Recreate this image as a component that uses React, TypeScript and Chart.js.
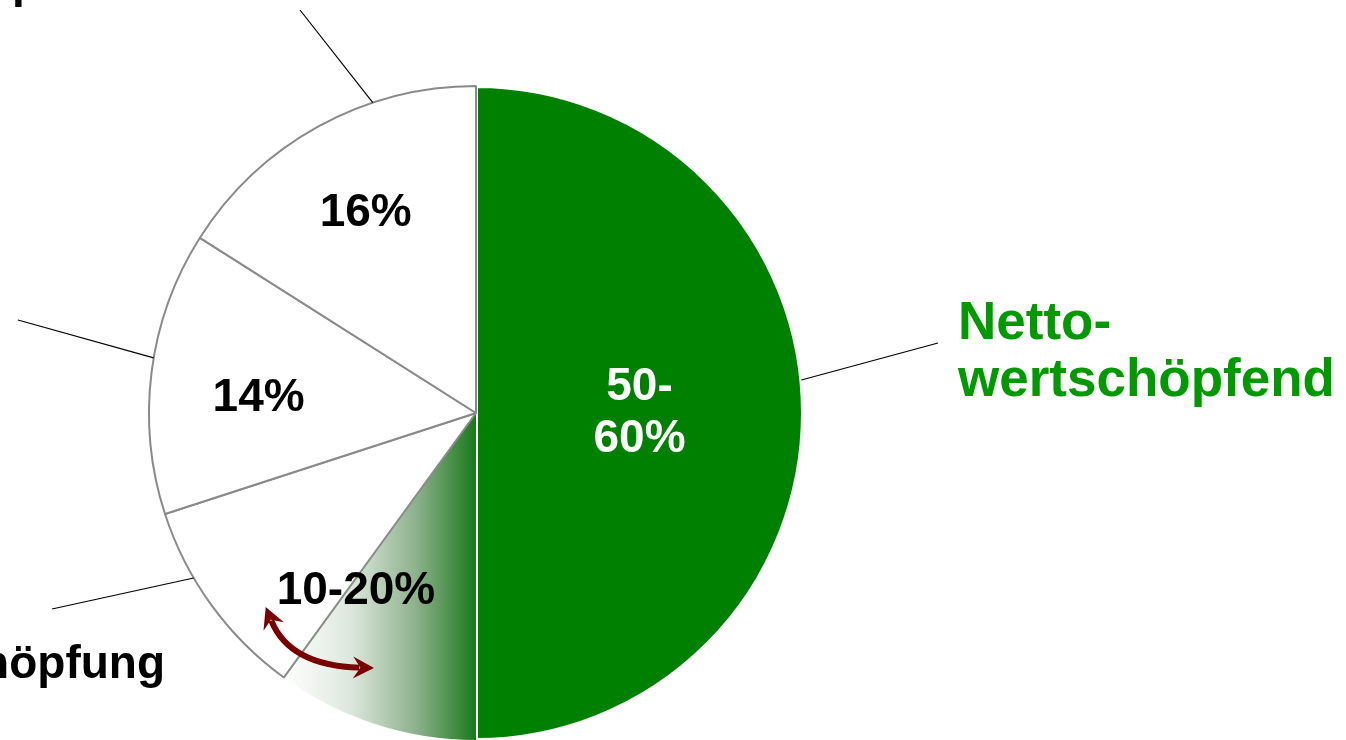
import React, { useEffect, useRef } from "react";
import { Chart, registerables } from "chart.js";

Chart.register(...registerables);

// ---- data ----
const categories = [
  "Netto-wertschöpfend",
  "Wertschöpfung (variabel)",
  "Wertschöpfung",
  "Unterstützend",
  "Stützprozesse",
];
const values = [50, 10, 10, 14, 16];
const sliceTexts: string[][] = [["50-", "60%"], [], [], ["14%"], ["16%"]];
const boundaryText = "10-20%";
const nettoLines = ["Netto-", "wertschöpfend"];
const bottomLabel = "Wertschöpfung";
const topLabelPrefix = "Stütz";
const topLabel = "Stützprozesse";

const W = 1346;
const H = 740;
const RADIUS = 327;
const FONT = "'Liberation Sans', Arial, sans-serif";
const GREEN = "#008000";
const TEXT_GREEN = "#009a00";
const GREY = "#8a8a8a";
const ARROW = "#7a0000";

function polar(cx: number, cy: number, angDeg: number, r: number) {
  const a = (angDeg * Math.PI) / 180;
  return { x: cx + r * Math.sin(a), y: cy - r * Math.cos(a) };
}

const total = values.reduce((a, b) => a + b, 0);
const cumAngle = (i: number) =>
  (values.slice(0, i).reduce((a, b) => a + b, 0) / total) * 360;

const overlayPlugin = {
  id: "overlay",
  afterDatasetsDraw(chart: any) {
    const ctx = chart.ctx as CanvasRenderingContext2D;
    const meta = chart.getDatasetMeta(0);
    const arc0 = meta.data[0] as any;
    const cx = arc0.x;
    const cy = arc0.y;
    const R = arc0.outerRadius;
    ctx.save();

    // slice labels
    const fracs = [0.5, 0, 0, 0.67, 0.7];
    const dys = [-3, 0, 0, 9, -2];
    ctx.textAlign = "center";
    ctx.textBaseline = "alphabetic";
    ctx.font = `bold 46px ${FONT}`;
    sliceTexts.forEach((lines, i) => {
      if (!lines.length) return;
      const mid = (cumAngle(i) + cumAngle(i + 1)) / 2;
      const p = polar(cx, cy, mid, R * fracs[i]);
      ctx.fillStyle = i === 0 ? "#ffffff" : "#000000";
      const lh = 52;
      const startY = p.y - ((lines.length - 1) * lh) / 2 + 16 + dys[i];
      lines.forEach((l, k) => ctx.fillText(l, p.x, startY + k * lh));
    });

    // boundary label (10-20%)
    const bAng = cumAngle(2);
    const bp = polar(cx, cy, bAng - 1, R * 0.64);
    ctx.fillStyle = "#000000";
    ctx.fillText(boundaryText, bp.x, bp.y + 20);

    // leader lines
    ctx.strokeStyle = "#000000";
    ctx.lineWidth = 1.2;
    const leaders: [number, number, number][] = [
      [84.2, 938, 343],
      [341.6, 300, 10],
      [279.7, 18, 320],
      [239.7, 52, 609],
    ];
    leaders.forEach(([ang, x2, y2]) => {
      const p = polar(cx, cy, ang, R);
      ctx.beginPath();
      ctx.moveTo(p.x, p.y);
      ctx.lineTo(x2, y2);
      ctx.stroke();
    });

    // outer labels
    ctx.textAlign = "left";
    ctx.font = `bold 53px ${FONT}`;
    ctx.fillStyle = TEXT_GREEN;
    ctx.fillText(nettoLines[0], 958, 339);
    ctx.fillText(nettoLines[1], 958, 396);

    ctx.font = `bold 46px ${FONT}`;
    ctx.fillStyle = "#000000";
    ctx.textAlign = "right";
    ctx.fillText(bottomLabel, 165, 678);
    ctx.textAlign = "left";
    const pre = ctx.measureText(topLabelPrefix).width;
    ctx.fillText(topLabel, 12 - pre, -3);

    // double-headed curved arrow across the boundary
    const s = polar(cx, cy, bAng + 11.3, R * 0.875);
    const e = polar(cx, cy, bAng - 14.2, R * 0.84);
    const c = polar(cx, cy, bAng + 0.4, R * 0.96);
    ctx.strokeStyle = ARROW;
    ctx.fillStyle = ARROW;
    ctx.lineWidth = 6;
    const head = 21;
    const hw = 11;
    const shorten = (from: any, to: any, d: number) => {
      const dx = to.x - from.x;
      const dy = to.y - from.y;
      const L = Math.hypot(dx, dy);
      return { x: to.x - (dx / L) * d, y: to.y - (dy / L) * d };
    };
    const s2 = shorten(c, s, head * 0.7);
    const e2 = shorten(c, e, head * 0.7);
    ctx.beginPath();
    ctx.moveTo(s2.x, s2.y);
    ctx.quadraticCurveTo(c.x, c.y, e2.x, e2.y);
    ctx.stroke();
    const drawHead = (tip: any, from: any) => {
      const dx = tip.x - from.x;
      const dy = tip.y - from.y;
      const L = Math.hypot(dx, dy);
      const ux = dx / L;
      const uy = dy / L;
      const bx = tip.x - ux * head;
      const by = tip.y - uy * head;
      ctx.beginPath();
      ctx.moveTo(tip.x, tip.y);
      ctx.lineTo(bx - uy * hw, by + ux * hw);
      ctx.lineTo(tip.x - ux * head * 0.65, tip.y - uy * head * 0.65);
      ctx.lineTo(bx + uy * hw, by - ux * hw);
      ctx.closePath();
      ctx.fill();
    };
    drawHead(s, c);
    drawHead(e, c);

    ctx.restore();
  },
};

export default function App() {
  const ref = useRef<HTMLCanvasElement | null>(null);
  useEffect(() => {
    if (!ref.current) return;
    const chart = new Chart(ref.current, {
      type: "pie",
      data: {
        labels: categories,
        datasets: [
          {
            data: values,
            backgroundColor: (ctx: any) => {
              const i = ctx.dataIndex;
              if (i === 0) return GREEN;
              if (i !== 1) return "#ffffff";
              const ca = ctx.chart.chartArea;
              if (!ca) return "#8fb08f";
              const cx = (ca.left + ca.right) / 2;
              const a = (cumAngle(2) * Math.PI) / 180;
              const x0 = cx + RADIUS * Math.sin(a);
              const g = ctx.chart.ctx.createLinearGradient(x0, 0, cx, 0);
              g.addColorStop(0, "#ffffff");
              g.addColorStop(0.35, "#dde7dd");
              g.addColorStop(0.7, "#8aaf8a");
              g.addColorStop(1, "#1a781a");
              return g;
            },
            borderColor: ["#ffffff", "rgba(0,0,0,0)", GREY, GREY, GREY],
            borderWidth: [4, 0, 2, 2, 2],
          },
        ],
      },
      options: {
        responsive: false,
        animation: false,
        devicePixelRatio: 1,
        radius: RADIUS,
        layout: { padding: { left: 149, right: 543, top: 86, bottom: 0 } },
        plugins: {
          legend: { display: false },
          tooltip: { enabled: false },
        },
      } as any,
      plugins: [overlayPlugin],
    });
    return () => chart.destroy();
  }, []);
  return (
    <canvas
      ref={ref}
      width={W}
      height={H}
      style={{ position: "absolute", left: 0, top: 0, width: W, height: H }}
    />
  );
}
